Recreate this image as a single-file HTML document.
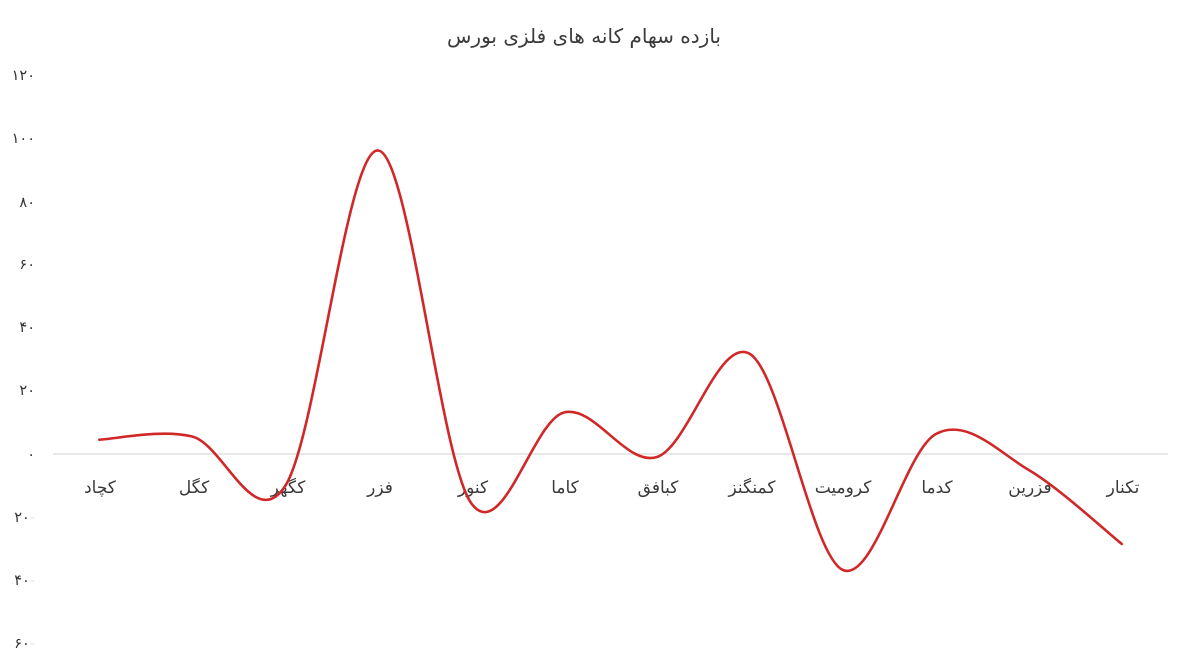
<!DOCTYPE html>
<html>
<head>
<meta charset="utf-8">
<style>
  html, body { margin:0; padding:0; background:#ffffff; }
  body { width:1181px; height:665px; overflow:hidden; }
  svg { display:block; }
  text { font-family: "DejaVu Sans", "Liberation Sans", sans-serif; }
</style>
</head>
<body>
<svg width="1181" height="665" viewBox="0 0 1181 665" xmlns="http://www.w3.org/2000/svg">
  <rect width="1181" height="665" fill="#ffffff"/>

  <!-- Title -->
  <text x="584" y="43" font-size="20" fill="#3a3a3a" text-anchor="middle">بازده سهام کانه های فلزی بورس</text>

  <!-- Y axis tick labels -->
  <g font-size="14.5" fill="#333333" text-anchor="end">
    <text x="35" y="80">۱۲۰</text>
    <text x="35" y="143">۱۰۰</text>
    <text x="35" y="207">۸۰</text>
    <text x="35" y="269">۶۰</text>
    <text x="35" y="332">۴۰</text>
    <text x="35" y="395">۲۰</text>
    <text x="35" y="459">۰</text>
    <text x="35" y="522">۲۰<tspan fill="#e2e2e2">-</tspan></text>
    <text x="35" y="585">۴۰<tspan fill="#e2e2e2">-</tspan></text>
    <text x="35" y="648">۶۰<tspan fill="#e2e2e2">-</tspan></text>
  </g>

  <!-- zero axis line -->
  <line x1="53" y1="454" x2="1168" y2="454" stroke="#d9d9d9" stroke-width="1.2"/>

  <!-- Category labels -->
  <g font-size="17" fill="#3a3a3a" text-anchor="middle">
    <text x="100" y="493">کچاد</text>
    <text x="194" y="493">کگل</text>
    <text x="288" y="493">کگهر</text>
    <text x="380" y="493">فزر</text>
    <text x="473" y="493">کنور</text>
    <text x="565" y="493">کاما</text>
    <text x="658" y="493">کبافق</text>
    <text x="752" y="493">کمنگنز</text>
    <text x="843" y="493">کرومیت</text>
    <text x="937" y="493">کدما</text>
    <text x="1030" y="493">فزرین</text>
    <text x="1123" y="493">تکنار</text>
  </g>

  <!-- Smoothed series line -->
  <path fill="none" stroke="#d02828" stroke-width="2.6" stroke-linecap="round" stroke-linejoin="round"
    d="M99.3,439.7
       C114.8,439.17 161.2,428.78 192.2,436.5
       C223.2,444.22 254.2,533.67 285.2,486
       C316.2,438.33 347.2,147.67 378.2,150.5
       C409.2,153.33 440.1,459.33 471.1,503
       C502.1,546.67 533.0,420.17 564.0,412.5
       C595.0,404.83 626.0,466.75 657.0,457
       C688.0,447.25 719.0,335.17 750.0,354
       C781.0,372.83 811.9,556.67 842.9,570
       C873.9,583.33 904.9,450.67 935.9,434
       C966.9,417.33 997.8,451.67 1028.8,470
       C1059.8,488.33 1106.3,531.67 1121.8,544"/>
</svg>
</body>
</html>
